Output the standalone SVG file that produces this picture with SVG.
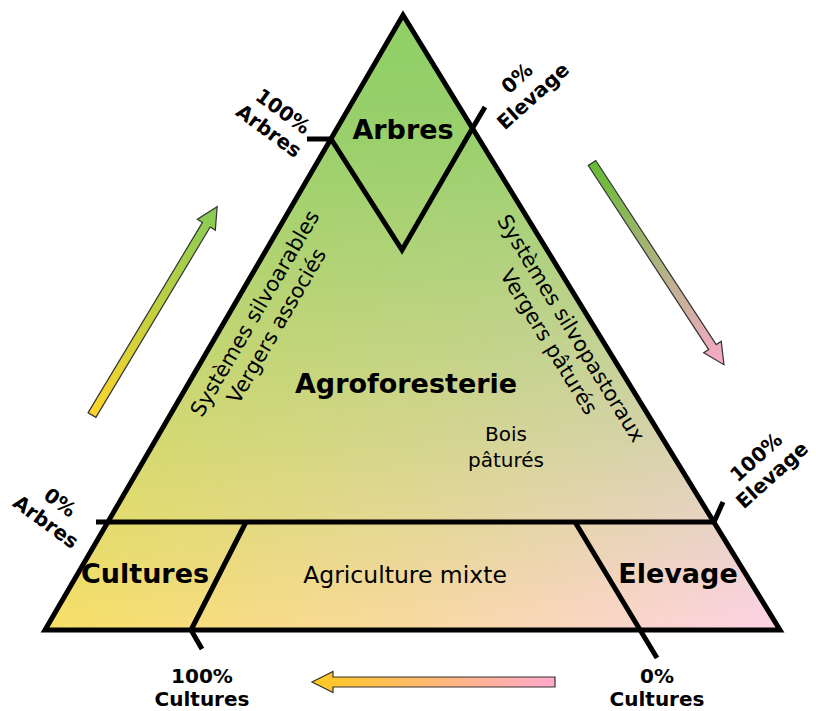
<svg xmlns="http://www.w3.org/2000/svg" width="816" height="711" viewBox="0 0 816 711">
<style>
.edge{fill:none;stroke:#000;stroke-width:5;stroke-linejoin:miter;stroke-linecap:butt}
.big{font-family:"DejaVu Sans",sans-serif;font-weight:bold;font-size:27px;fill:#000;text-anchor:middle}
.lab{font-family:"DejaVu Sans",sans-serif;font-weight:bold;font-size:20px;fill:#000;text-anchor:middle}
.reg{font-family:"DejaVu Sans",sans-serif;font-size:20px;fill:#000;text-anchor:middle}
.rot{font-family:"DejaVu Sans",sans-serif;font-size:21px;fill:#000;text-anchor:middle}
.arrow{stroke:#333;stroke-width:1.2}
</style>
<defs>
<linearGradient id="gYP" gradientUnits="userSpaceOnUse" x1="45" y1="0" x2="780" y2="0">
<stop offset="0" stop-color="#f6df66"/>
<stop offset="0.5" stop-color="#f8d9a0"/>
<stop offset="1" stop-color="#fdd2e6"/>
</linearGradient>
<linearGradient id="gG" gradientUnits="userSpaceOnUse" x1="0" y1="15" x2="0" y2="625">
<stop offset="0" stop-color="#8fcf66" stop-opacity="1"/>
<stop offset="0.2" stop-color="#8fcf66" stop-opacity="0.9"/>
<stop offset="1" stop-color="#8fcf66" stop-opacity="0"/>
</linearGradient>
<linearGradient id="aL" x1="0" y1="0" x2="1" y2="0">
<stop offset="0" stop-color="#ffd42a"/>
<stop offset="1" stop-color="#85cc55"/>
</linearGradient>
<linearGradient id="aR" x1="0" y1="0" x2="1" y2="0">
<stop offset="0" stop-color="#66bb33"/>
<stop offset="1" stop-color="#f9aacb"/>
</linearGradient>
<linearGradient id="aB" x1="0" y1="0" x2="1" y2="0">
<stop offset="0" stop-color="#ffaacc"/>
<stop offset="1" stop-color="#ffc91f"/>
</linearGradient>
</defs>
<rect width="816" height="711" fill="#fff"/>

<g id="triangle">
<polygon points="403,15 780,630 45,630" fill="url(#gYP)"/>
<polygon points="403,15 780,630 45,630" fill="url(#gG)"/>
</g>

<g id="connectors">
<polygon class="edge" points="403,15 780,630 45,630"/>
<polyline class="edge" points="307,139 331,139 402,250 472,129 485,107"/>
<polyline class="edge" points="96,522 714,522 723,502"/>
<polyline class="edge" points="246,522 191,630 202,649"/>
<polyline class="edge" points="575,522 657,658"/>
</g>

<g id="arrow-left" transform="translate(92,415) rotate(-59)">
<polygon class="arrow" fill="url(#aL)" points="0,-4.5 222,-4.5 222,-10.5 243,0 222,10.5 222,4.5 0,4.5"/>
</g>
<g id="arrow-right" transform="translate(592,163) rotate(56.8)">
<polygon class="arrow" fill="url(#aR)" points="0,-4.5 220,-4.5 220,-10.5 241,0 220,10.5 220,4.5 0,4.5"/>
</g>
<g id="arrow-bottom" transform="translate(555,682) rotate(180)">
<polygon class="arrow" fill="url(#aB)" points="0,-5 222,-5 222,-10.5 243,0 222,10.5 222,5 0,5"/>
</g>

<g id="node-arbres"><text class="big" x="403" y="139">Arbres</text></g>
<g id="node-agroforesterie"><text class="big" x="406" y="393">Agroforesterie</text></g>
<g id="node-cultures"><text class="big" x="145" y="583">Cultures</text></g>
<g id="node-elevage"><text class="big" x="678" y="583">Elevage</text></g>
<g id="node-mixte"><text class="reg" x="405" y="583" style="font-size:23.5px">Agriculture mixte</text></g>
<g id="node-bois"><text class="reg" x="506" y="441">Bois</text><text class="reg" x="506" y="467">pâturés</text></g>

<g id="node-silvoarable" transform="translate(261,317) rotate(-59.8)">
<text class="rot" x="0" y="0">Systèmes silvoarables</text>
<text class="rot" x="0" y="25">Vergers associés</text>
</g>
<g id="node-silvopastoral" transform="translate(565,332) rotate(58.5)">
<text class="rot" x="0" y="0">Systèmes silvopastoraux</text>
<text class="rot" x="0" y="26">Vergers pâturés</text>
</g>

<g id="label-100-arbres" transform="translate(276,121) rotate(36)">
<text class="lab" x="0" y="-5">100%</text>
<text class="lab" x="0" y="19">Arbres</text>
</g>
<g id="label-0-elevage" transform="translate(525,87) rotate(-42)">
<text class="lab" x="0" y="-5">0%</text>
<text class="lab" x="0" y="19">Elevage</text>
</g>
<g id="label-0-arbres" transform="translate(53,512) rotate(36)">
<text class="lab" x="0" y="-5">0%</text>
<text class="lab" x="0" y="19">Arbres</text>
</g>
<g id="label-100-elevage" transform="translate(764,466) rotate(-42)">
<text class="lab" x="0" y="-5">100%</text>
<text class="lab" x="0" y="19">Elevage</text>
</g>
<g id="label-100-cultures">
<text class="lab" x="202" y="683">100%</text>
<text class="lab" x="202" y="706">Cultures</text>
</g>
<g id="label-0-cultures">
<text class="lab" x="657" y="683">0%</text>
<text class="lab" x="657" y="706">Cultures</text>
</g>
</svg>
